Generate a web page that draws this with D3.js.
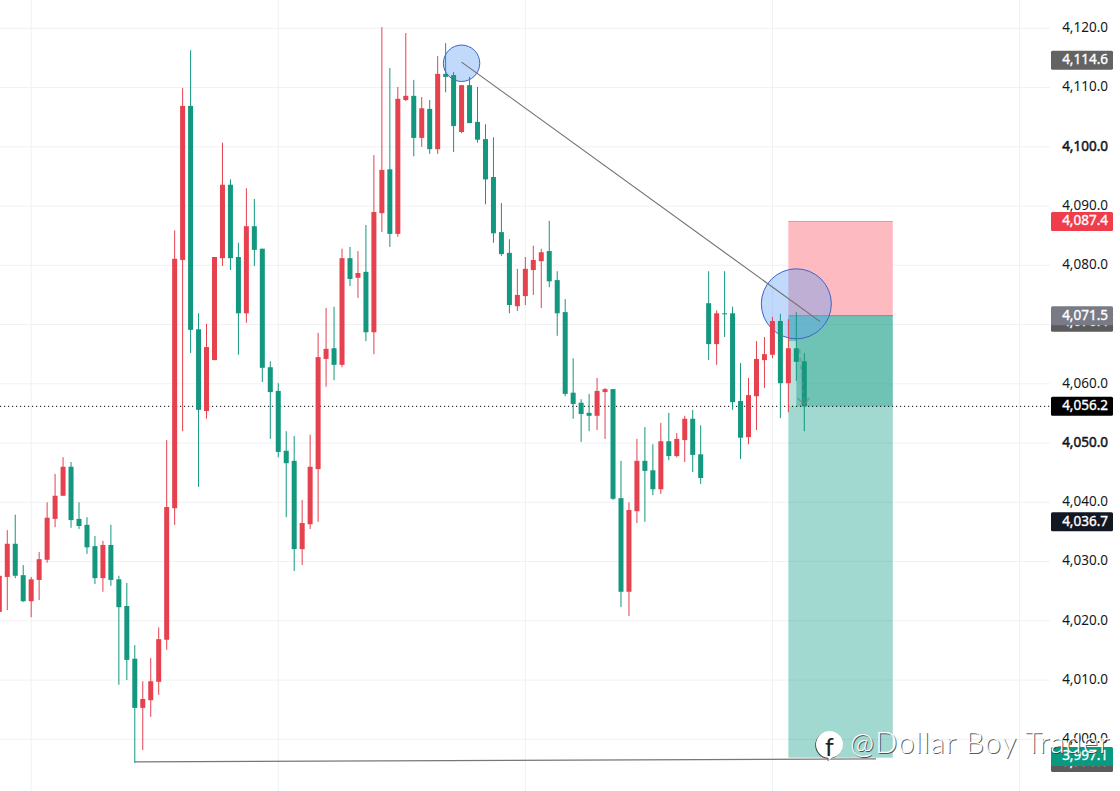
<!DOCTYPE html>
<html>
<head>
<meta charset="utf-8">
<script src="https://d3js.org/d3.v7.min.js"></script>
<style>
  html, body { margin: 0; padding: 0; background: #fff; }
  svg { display: block; }
  text { font-family: "Noto Sans", sans-serif; }
</style>
</head>
<body>
<div id="chart"></div>
<script>
// candles, oldest first. one entry per bar
const opens = [4021.5,4027.4,4033.0,4027.7,4023.3,4026.9,4030.3,4037.2,4041.1,4046.0,4037.2,4036.2,4032.6,4027.2,4032.8,4027.0,4022.5,4013.6,4005.3,4006.6,
  4009.7,4016.8,4039.0,4080.9,4106.9,4069.2,4055.4,4064.0,4081.2,4093.6,4081.4,4071.9,4086.6,4082.8,4062.8,4058.8,4048.7,4047.0,4032.1,4036.3,
  4045.6,4064.2,4066.0,4063.2,4081.2,4077.9,4078.9,4068.7,4088.8,4096.2,4085.3,4107.9,4108.6,4101.5,4106.4,4099.6,4112.3,4112.1,4102.5,4110.4,
  4104.2,4101.3,4094.9,4085.6,4082.1,4073.1,4074.8,4079.2,4080.7,4082.4,4077.5,4072.1,4058.5,4056.8,4055.1,4054.6,4058.6,4059.1,4040.7,4024.9,
  4038.5,4047.0,4045.4,4042.2,4050.3,4047.8,4050.5,4054.1,4048.1,4073.6,4066.7,4071.9,4071.9,4057.1,4051.0,4057.9,4064.0,4064.9,4070.6,4060.1,
  4066.0,4063.8];
const highs = [4027.9,4035.3,4037.9,4029.4,4027.4,4031.6,4040.0,4044.8,4047.6,4046.8,4040.0,4037.5,4034.3,4033.5,4036.2,4027.6,4026.4,4015.9,4009.8,4013.7,
  4018.9,4050.5,4085.9,4109.9,4116.3,4071.9,4070.1,4081.4,4100.7,4094.5,4083.8,4093.0,4091.2,4082.8,4063.8,4060.1,4052.0,4051.2,4040.4,4051.4,
  4068.6,4072.8,4073.0,4082.8,4083.1,4082.4,4086.8,4098.6,4120.2,4113.3,4110.1,4119.2,4111.3,4108.4,4107.9,4115.3,4117.5,4112.6,4110.4,4111.8,
  4110.1,4103.8,4101.6,4090.5,4084.4,4079.4,4081.4,4083.3,4082.8,4087.5,4079.0,4074.3,4064.3,4057.4,4058.3,4061.0,4059.3,4059.1,4047.0,4040.0,
  4050.7,4052.7,4049.8,4053.4,4055.1,4051.7,4054.6,4055.6,4053.0,4079.0,4072.4,4079.0,4073.0,4063.5,4061.0,4067.2,4067.9,4071.3,4071.8,4070.9,
  4072.1,4065.2];
const lows = [4021.5,4021.8,4027.2,4023.2,4020.6,4023.5,4029.8,4035.8,4041.1,4035.7,4035.5,4031.3,4026.2,4024.9,4025.9,4009.2,4010.0,3996.0,3998.2,4003.8,
  4007.5,4015.1,4036.2,4052.0,4065.2,4042.6,4054.1,4064.0,4079.9,4079.2,4064.9,4070.3,4079.9,4060.3,4050.7,4047.6,4037.5,4028.4,4029.4,4035.5,
  4036.7,4059.5,4060.6,4062.8,4076.5,4074.5,4067.2,4065.0,4085.6,4083.1,4084.8,4107.7,4098.4,4100.0,4098.8,4098.8,4109.2,4099.1,4102.3,4104.0,
  4100.7,4090.3,4083.8,4081.6,4071.9,4072.3,4073.3,4075.0,4072.8,4076.3,4068.1,4057.9,4054.1,4050.2,4052.0,4052.2,4050.7,4040.4,4022.3,4020.8,
  4036.5,4036.7,4041.2,4041.4,4047.1,4047.6,4046.8,4045.1,4043.1,4064.0,4063.2,4067.9,4055.6,4047.3,4049.8,4052.2,4059.3,4064.3,4054.2,4055.2,
  4060.5,4052.0];
const closes = [4027.6,4033.0,4027.6,4023.3,4027.0,4030.4,4037.4,4041.1,4046.0,4037.0,4036.0,4032.4,4027.2,4032.8,4026.9,4022.3,4013.4,4005.3,4006.8,4009.8,
  4016.9,4039.2,4081.1,4106.9,4069.1,4055.6,4066.2,4081.4,4093.6,4081.2,4071.9,4086.6,4082.6,4062.7,4058.6,4048.5,4046.6,4032.1,4036.5,4046.0,
  4064.5,4065.9,4063.2,4081.2,4077.7,4078.7,4068.7,4089.0,4096.1,4085.3,4108.1,4108.6,4101.5,4106.5,4099.6,4112.3,4111.8,4103.5,4110.4,4104.0,
  4101.2,4094.5,4085.4,4081.9,4073.3,4075.0,4079.4,4080.9,4082.2,4077.3,4071.9,4058.3,4056.6,4054.9,4054.6,4058.8,4059.1,4040.6,4024.9,4038.7,
  4047.0,4045.3,4042.2,4050.3,4047.8,4050.7,4054.1,4048.0,4044.1,4066.7,4071.9,4071.8,4056.9,4050.9,4058.1,4064.2,4065.0,4070.6,4060.1,4066.0,
  4063.7,4056.2];

const priceTicks = [4120,4110,4100,4090,4080,4070,4060,4050,4040,4030,4020,4010,4000];
const boldTicks = [4100,4050];
const gridBars = [4,35,66,97,128];

// price tags on the axis, back to front
const tagPrices = [4114.6,4087.4,4070.4,4071.5,4056.2,4036.7,3996.1,3997.1];

// long position tool
const entryPrice = 4071.5, stopPrice = 4087.4, targetPrice = 3996.9, lastPrice = 4056.2;
const toolBars = [99,112.1];

// drawings: [bar, price]
const swingLine = [[58,4114.3],[103,4070.5]];
const lowLine = [[17,3996.2],[110,3996.7]];
const smallCircle = [58,4114.1];
const bigCircle = [100,4073.5];
const projection = [[100.4,4065.8],[101,4056.6]];

const width = 1120, height = 791;
const red = "#e5414f", green = "#13977f";
const tagColors = ["#636363","#ef3d4c","#5b5b5b","#787b86","#000000","#131722","#5b5b5b","#089981"];

const x = d3.scaleLinear().domain([0,101]).range([-0.7,804.3]);
const y = d3.scaleLinear().domain([4120,4000]).range([28.3,739.3]);

const svg = d3.select("#chart").append("svg")
  .attr("width", width)
  .attr("height", height)
  .attr("viewBox", `0 0 ${width} ${height}`);

// grid
svg.append("g").selectAll("line").data(gridBars).join("line")
  .attr("x1", d => x(d)).attr("x2", d => x(d))
  .attr("y1", 0).attr("y2", height)
  .attr("stroke", "#f0f1f4");

svg.append("g").selectAll("line").data(priceTicks).join("line")
  .attr("x1", 0).attr("x2", 1050)
  .attr("y1", d => y(d)).attr("y2", d => y(d))
  .attr("stroke", "#f0f1f4");

// position tool zones
const toolX = x(toolBars[0]), toolW = x(toolBars[1]) - x(toolBars[0]);
const zones = svg.append("g");
zones.append("rect")
  .attr("x", toolX).attr("width", toolW)
  .attr("y", y(stopPrice)).attr("height", y(entryPrice) - y(stopPrice))
  .attr("fill", "#fdbac0");
zones.append("rect")
  .attr("x", toolX).attr("width", toolW)
  .attr("y", y(entryPrice)).attr("height", y(targetPrice) - y(entryPrice))
  .attr("fill", "#089981").attr("opacity", 0.38);
zones.append("rect")
  .attr("x", toolX).attr("width", toolW)
  .attr("y", y(entryPrice)).attr("height", y(lastPrice) - y(entryPrice))
  .attr("fill", "#089981").attr("opacity", 0.33);
zones.append("rect")
  .attr("x", toolX).attr("width", x(toolBars[0] + 1) - toolX)
  .attr("y", y(4067.2)).attr("height", y(lastPrice) - y(4067.2))
  .attr("fill", "#fff").attr("opacity", 0.5);
zones.append("line")
  .attr("x1", toolX).attr("x2", toolX + toolW)
  .attr("y1", y(stopPrice)).attr("y2", y(stopPrice))
  .attr("stroke", "#d89aa4");
zones.append("line")
  .attr("x1", toolX).attr("x2", toolX + toolW)
  .attr("y1", y(entryPrice)).attr("y2", y(entryPrice))
  .attr("stroke", "#7f8c8c");

// circles sit under the candles
svg.append("g").selectAll("circle").data([[smallCircle,18.2],[bigCircle,35]]).join("circle")
  .attr("cx", d => x(d[0][0]))
  .attr("cy", d => y(d[0][1]))
  .attr("r", d => d[1])
  .attr("fill", "rgba(100,160,245,0.4)")
  .attr("stroke", "#3d63c6");

// last price dotted line
svg.append("line")
  .attr("x1", 0).attr("x2", 1051)
  .attr("y1", y(lastPrice)).attr("y2", y(lastPrice))
  .attr("stroke", "#000")
  .attr("stroke-dasharray", "1.2 2.8");

// candles
const bars = svg.append("g").selectAll("g").data(d3.range(opens.length)).join("g")
  .attr("fill", i => closes[i] >= opens[i] ? red : green)
  .attr("stroke", i => closes[i] >= opens[i] ? red : green);

bars.append("line")
  .attr("x1", i => x(i)).attr("x2", i => x(i))
  .attr("y1", i => y(highs[i])).attr("y2", i => y(lows[i]))
  .attr("stroke-width", 1);

bars.append("rect")
  .attr("x", i => x(i) - 2.5)
  .attr("width", 5)
  .attr("y", i => y(Math.max(opens[i], closes[i])))
  .attr("height", i => Math.max(1, Math.abs(y(opens[i]) - y(closes[i]))))
  .attr("stroke", "none");

// trend lines
const line = d3.line().x(d => x(d[0])).y(d => y(d[1]));
svg.append("path").attr("d", line(swingLine))
  .attr("fill", "none").attr("stroke", "#6f6f6f").attr("stroke-width", 1.1);
svg.append("path").attr("d", line(lowLine))
  .attr("fill", "none").attr("stroke", "#777").attr("stroke-width", 1.3);

// faint dashed arrow on the last bars
const arrowEnd = projection[1];
svg.append("path").attr("d", line(projection))
  .attr("fill", "none").attr("stroke", "#6f8f86").attr("stroke-opacity", 0.7)
  .attr("stroke-width", 1.5).attr("stroke-dasharray", "4 4");
svg.append("path")
  .attr("d", `M${x(arrowEnd[0]) - 7} ${y(arrowEnd[1]) - 6}L${x(arrowEnd[0])} ${y(arrowEnd[1])}L${x(arrowEnd[0]) + 5} ${y(arrowEnd[1]) - 6}`)
  .attr("fill", "none").attr("stroke", "#6f8f86").attr("stroke-opacity", 0.7).attr("stroke-width", 1.5);

// price axis
const axis = d3.axisRight(y)
  .tickValues(priceTicks)
  .tickSize(0)
  .tickPadding(0)
  .tickFormat(d3.format(",.1f"));

const axisG = svg.append("g").attr("transform", "translate(1108,-1)").call(axis);
axisG.select(".domain").remove();
axisG.selectAll("text")
  .attr("text-anchor", "end")
  .attr("fill", "#131722")
  .attr("stroke", d => boldTicks.includes(d) ? "#131722" : "none")
  .attr("stroke-width", 0.5)
  .style("font-size", "13.5px")
  .style("font-family", '"Noto Sans", sans-serif');

// price tags
const tags = svg.append("g").selectAll("g").data(tagPrices).join("g")
  .attr("transform", d => `translate(1051,${y(d)})`);
tags.append("rect")
  .attr("y", -9.5).attr("width", 62).attr("height", 19).attr("rx", 1.5)
  .attr("fill", (d, i) => tagColors[i]);
tags.append("text")
  .attr("x", 57).attr("y", 4)
  .attr("text-anchor", "end")
  .attr("fill", "#fff")
  .attr("stroke", "#fff")
  .attr("stroke-width", 0.35)
  .attr("font-size", 13.5)
  .text(d => d3.format(",.1f")(d));

// watermark
const markFont = sel => sel
  .attr("font-size", 29).attr("letter-spacing", 1.15)
  .style("font-family", "Lato, sans-serif").style("font-weight", 300)
  .text("@Dollar Boy Trader");
const mark = svg.append("g");
mark.append("text").attr("x", 851).attr("y", 753.5)
  .attr("fill", "#333").attr("opacity", 0.8)
  .call(markFont);
mark.append("text").attr("x", 850).attr("y", 752.5)
  .attr("fill", "#fff")
  .call(markFont);
const bubble = "M829.5 731a13.5 13.5 0 0 1 13.5 13.5a13.5 13.5 0 0 1-11 13.3l-3.5 2.7v-2.6a13.5 13.5 0 0 1-12.5-13.4a13.5 13.5 0 0 1 13.5-13.5z";
mark.append("path").attr("d", bubble).attr("transform", "translate(-0.8,0.8)")
  .attr("fill", "#444");
mark.append("path").attr("d", bubble).attr("fill", "#fff");
mark.append("text").attr("x", 825).attr("y", 756)
  .attr("fill", "#222").attr("font-size", 25)
  .style("font-family", "Lato, sans-serif").style("font-weight", 400)
  .text("f");
</script>
</body>
</html>
